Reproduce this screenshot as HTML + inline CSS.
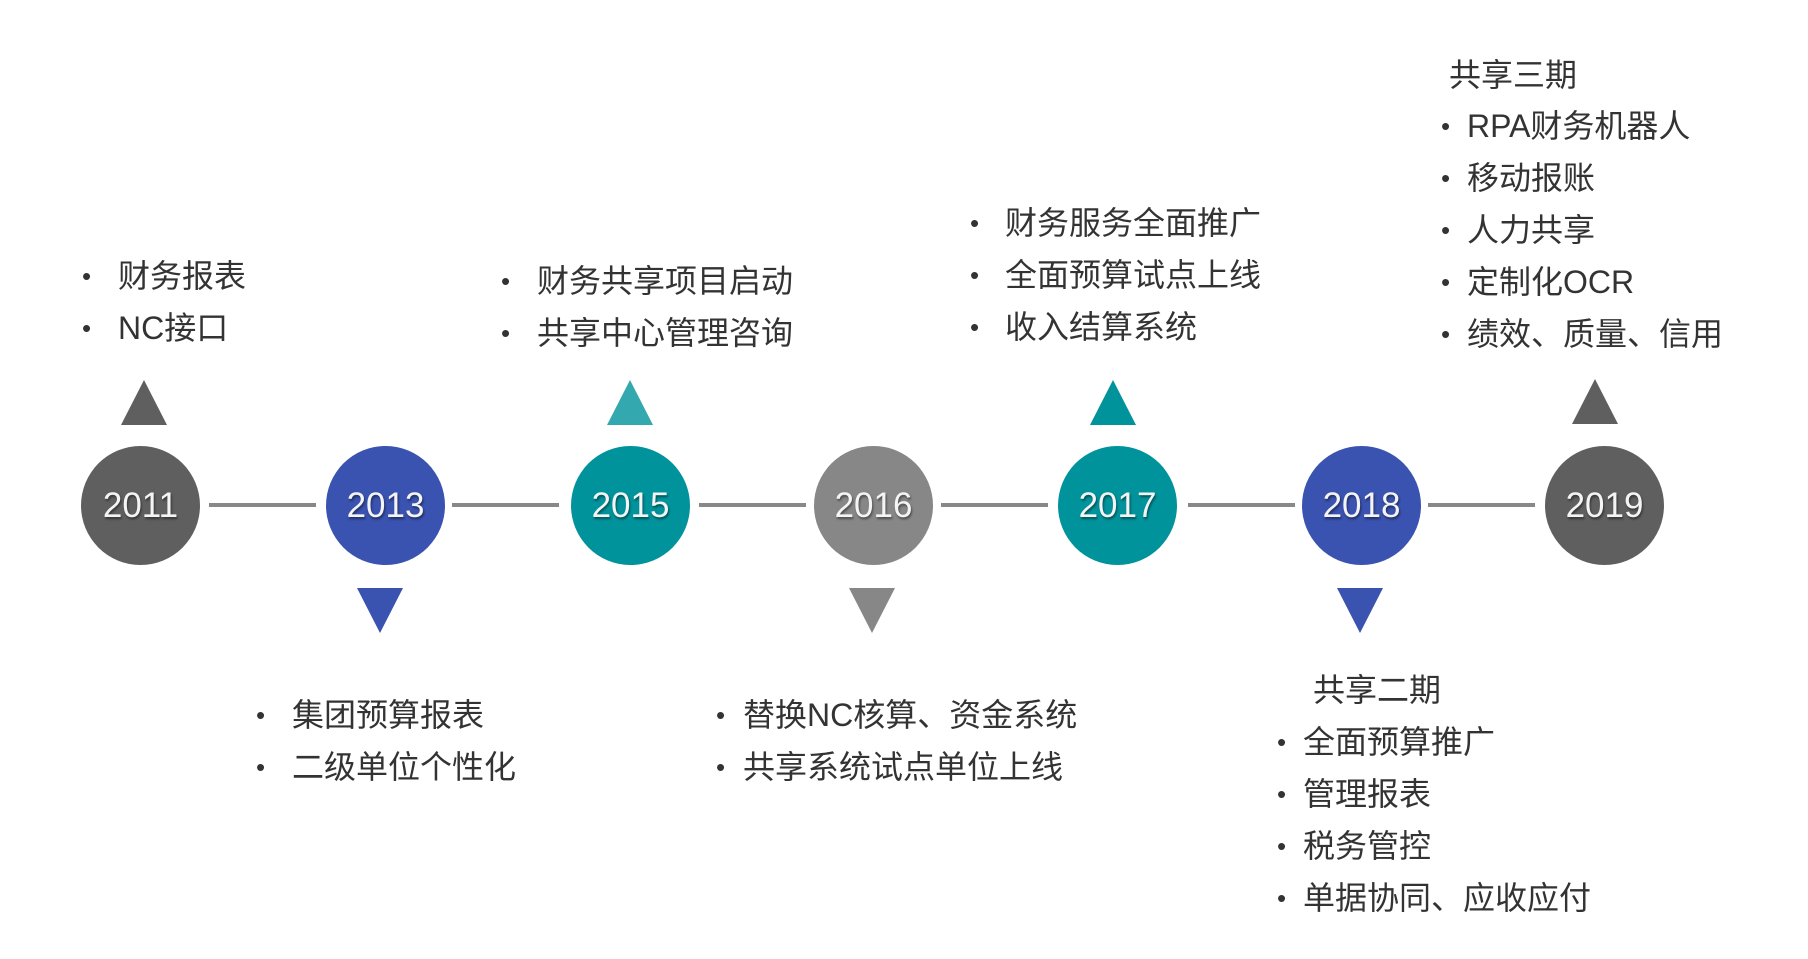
<!DOCTYPE html>
<html><head><meta charset="utf-8"><style>
body{margin:0;width:1808px;height:959px;background:#fff;position:relative;overflow:hidden;font-family:"Liberation Sans","Noto Sans CJK SC",sans-serif;color:#333}
.c{position:absolute;width:119px;height:119px;border-radius:50%;color:#f4f4f4;font-size:35px;line-height:119px;text-align:center;text-shadow:1px 2px 2px rgba(0,0,0,.45)}
.l{position:absolute;height:4px;background:#888;top:503px}
.t{position:absolute;width:0;height:0;border-left:23px solid transparent;border-right:23px solid transparent}
.u{border-bottom:45px solid}
.d{border-top:45px solid}
.x{position:absolute;font-size:32px;line-height:52px;white-space:nowrap}
.b{position:absolute;font-size:26px;line-height:52px}
</style></head><body>
<div class="l" style="left:209px;width:107px"></div>
<div class="l" style="left:452px;width:107px"></div>
<div class="l" style="left:699px;width:107px"></div>
<div class="l" style="left:941px;width:107px"></div>
<div class="l" style="left:1188px;width:107px"></div>
<div class="l" style="left:1428px;width:107px"></div>
<div class="c" style="left:81px;top:446px;background:#5f5f5f">2011</div>
<div class="c" style="left:326px;top:446px;background:#3a52b0">2013</div>
<div class="c" style="left:571px;top:446px;background:#00939b">2015</div>
<div class="c" style="left:814px;top:446px;background:#878787">2016</div>
<div class="c" style="left:1058px;top:446px;background:#00939b">2017</div>
<div class="c" style="left:1302px;top:446px;background:#3a52b0">2018</div>
<div class="c" style="left:1545px;top:446px;background:#5f5f5f">2019</div>
<div class="t u" style="left:121px;top:380px;border-bottom-color:#5f5f5f"></div>
<div class="t d" style="left:357px;top:588px;border-top-color:#3a52b0"></div>
<div class="t u" style="left:607px;top:380px;border-bottom-color:#33a8ae"></div>
<div class="t d" style="left:849px;top:588px;border-top-color:#878787"></div>
<div class="t u" style="left:1090px;top:380px;border-bottom-color:#00939b"></div>
<div class="t d" style="left:1337px;top:588px;border-top-color:#3a52b0"></div>
<div class="t u" style="left:1572px;top:379px;border-bottom-color:#5f5f5f"></div>

<div class="b" style="left:82px;top:250px">•<br>•</div>
<div class="x" style="left:118px;top:250px">财务报表<br>NC接口</div>

<div class="b" style="left:501px;top:255px">•<br>•</div>
<div class="x" style="left:537px;top:255px">财务共享项目启动<br>共享中心管理咨询</div>

<div class="b" style="left:970px;top:197px">•<br>•<br>•</div>
<div class="x" style="left:1005px;top:197px">财务服务全面推广<br>全面预算试点上线<br>收入结算系统</div>

<div class="x" style="left:1449px;top:49px">共享三期</div>
<div class="b" style="left:1441px;top:100px">•<br>•<br>•<br>•<br>•</div>
<div class="x" style="left:1467px;top:100px">RPA财务机器人<br>移动报账<br>人力共享<br>定制化OCR<br>绩效、质量、信用</div>

<div class="b" style="left:256px;top:689px">•<br>•</div>
<div class="x" style="left:292px;top:689px">集团预算报表<br>二级单位个性化</div>

<div class="b" style="left:716px;top:689px">•<br>•</div>
<div class="x" style="left:743px;top:689px">替换NC核算、资金系统<br>共享系统试点单位上线</div>

<div class="x" style="left:1313px;top:664px">共享二期</div>
<div class="b" style="left:1277px;top:716px">•<br>•<br>•<br>•</div>
<div class="x" style="left:1303px;top:716px">全面预算推广<br>管理报表<br>税务管控<br>单据协同、应收应付</div>
</body></html>
